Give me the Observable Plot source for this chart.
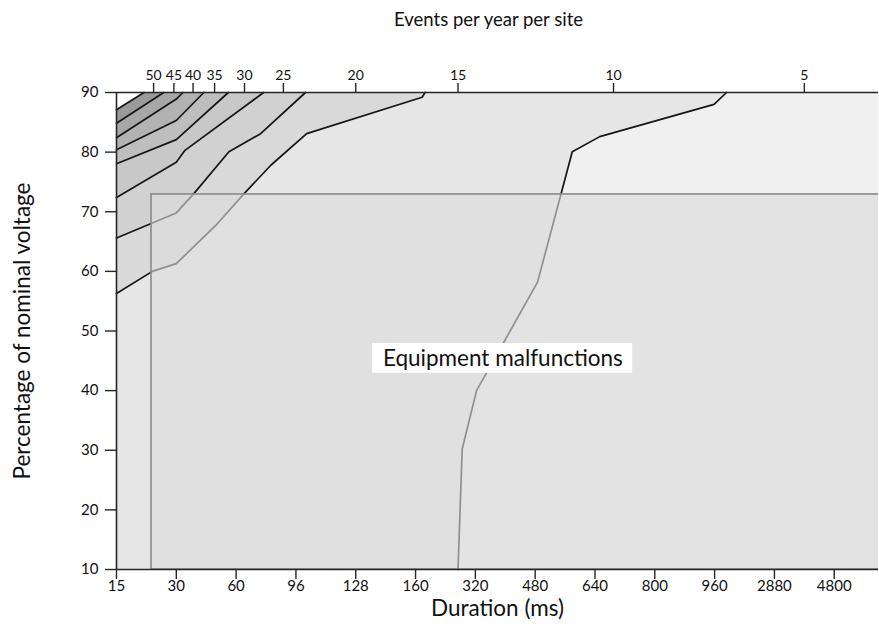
<!DOCTYPE html>
<html><head><meta charset="utf-8">
<script src="https://cdn.jsdelivr.net/npm/d3@7"></script>
<script src="https://cdn.jsdelivr.net/npm/@observablehq/plot@0.6"></script>
<style>body{margin:0;background:#fff;} #chart{width:879px;height:643px;}</style>
</head><body><div id="chart"></div>
<script>
// ---- data ----
// x is the duration category index (0 = 15 ms ... 12 = 4800 ms), y is % of nominal voltage
const durationLabels = ["15","30","60","96","128","160","320","480","640","800","960","2880","4800"];
const voltageTicks = [10,20,30,40,50,60,70,80,90];
const eventLabels = ["50","45","40","35","30","25","20","15","10","5"];
const eventPositions = [0.62,0.96,1.28,1.64,2.14,2.79,4.0,5.71,8.31,11.5];

const contour50 = [[0,87.1],[0.46,90]];
const contour45 = [[0,84.85],[0.79,90]];
const contour40 = [[0,82.4],[1.0,88.9],[1.11,90]];
const contour35 = [[0,80.4],[1.0,85.3],[1.46,90]];
const contour30 = [[0,78.05],[1.0,82.1],[1.87,90]];
const contour25 = [[0,72.4],[1.0,78.3],[1.145,80.3],[2.46,90]];
const contour20 = [[0,65.6],[0.6,68.1],[1.0,69.8],[1.29,73.0],[1.88,80.05],[2.41,83.1],[3.16,90]];
const contour15 = [[0,56.3],[0.6,60.0],[1.0,61.3],[1.66,67.7],[2.13,73.0],[2.58,77.8],[3.18,83.1],[5.11,89.2],[5.16,90]];
const contour10 = [[5.71,10],[5.78,30.2],[6.02,40.0],[7.04,58.2],[7.62,80.05],[8.08,82.6],[9.99,88.0],[10.2,90]];

const malfunctionZoneX = [0.585, 13];
const malfunctionZoneY = [10, 72.9];
const malfunctionLabel = "Equipment malfunctions";

// ---- drawing ----
const xDomain = [0, 12.74];
const contours = [contour10, contour15, contour20, contour25, contour30, contour35, contour40, contour45, contour50];
const shades = ["#e6e6e6","#d9d9d9","#d1d1d1","#c8c8c8","#bebebe","#b2b2b2","#a7a7a7","#9a9a9a","#ffffff"];
const regionOf = (c) => c[0][0] === 0 ? [...c, [0,90]] : [...c, [0,90], [0,10]];

const ink = "#262626";
const font = "Lato, 'Open Sans', sans-serif";
const marks = [
  Plot.frame({fill: "#f0f0f0", stroke: "none"}),
  ...contours.map((c, i) => Plot.line(regionOf(c), {x: d => d[0], y: d => d[1], fill: shades[i], stroke: "none"})),
  ...contours.map(c => Plot.line(c, {x: d => d[0], y: d => d[1], stroke: "#161616", strokeWidth: 1.7, strokeLinejoin: "miter"})),
  Plot.rect([0], {x1: malfunctionZoneX[0], x2: malfunctionZoneX[1], y1: malfunctionZoneY[0], y2: malfunctionZoneY[1],
    fill: "#dcdcdc", fillOpacity: 0.62, stroke: "#8a8a8a", strokeWidth: 1.6, clip: "frame"}),
  Plot.rect([0], {x1: 4.28, x2: 8.63, y1: 42.9, y2: 47.9, fill: "#ffffff"}),
  Plot.text([malfunctionLabel], {x: 6.46, y: 45.4, text: d => d, fontSize: 22.5, fill: "#111"}),
  Plot.ruleX([0], {stroke: ink, strokeWidth: 1.6}),
  Plot.ruleY([10, 90], {stroke: ink, strokeWidth: 1.6}),
  Plot.axisY({ticks: voltageTicks, tickSize: 11, tickPadding: 7, fontSize: 15, label: null, stroke: ink, strokeWidth: 1.4, color: "#111"}),
  Plot.axisX({anchor: "bottom", ticks: d3.range(durationLabels.length), tickFormat: i => durationLabels[i],
    tickSize: 10, tickPadding: 1, fontSize: 15, label: null, stroke: ink, strokeWidth: 1.4, color: "#111"}),
  Plot.axisX({anchor: "top", ticks: eventPositions, tickFormat: d => eventLabels[eventPositions.indexOf(d)],
    tickSize: 10, tickPadding: 3, fontSize: 14, label: null, stroke: ink, strokeWidth: 1.4, color: "#111"}),
  Plot.text(["Duration (ms)"], {frameAnchor: "bottom", lineAnchor: "middle", textAnchor: "middle", dy: 39, fontSize: 22.5, fill: "#111"}),
  Plot.text(["Events per year per site"], {frameAnchor: "top", lineAnchor: "middle", textAnchor: "middle", dy: -72, dx: -9, fontSize: 18.5, fill: "#111"}),
  Plot.text(["Percentage of nominal voltage"], {frameAnchor: "left", lineAnchor: "middle", textAnchor: "middle", dx: -94, rotate: -90, fontSize: 22.5, fill: "#111"})
];

const chart = Plot.plot({
  width: 879, height: 643,
  marginLeft: 116, marginRight: 1, marginTop: 92, marginBottom: 74,
  x: {domain: xDomain},
  y: {domain: [10, 90]},
  style: {fontFamily: font, background: "#fff", overflow: "visible"},
  marks
});
document.getElementById("chart").appendChild(chart);
</script>
</body></html>
